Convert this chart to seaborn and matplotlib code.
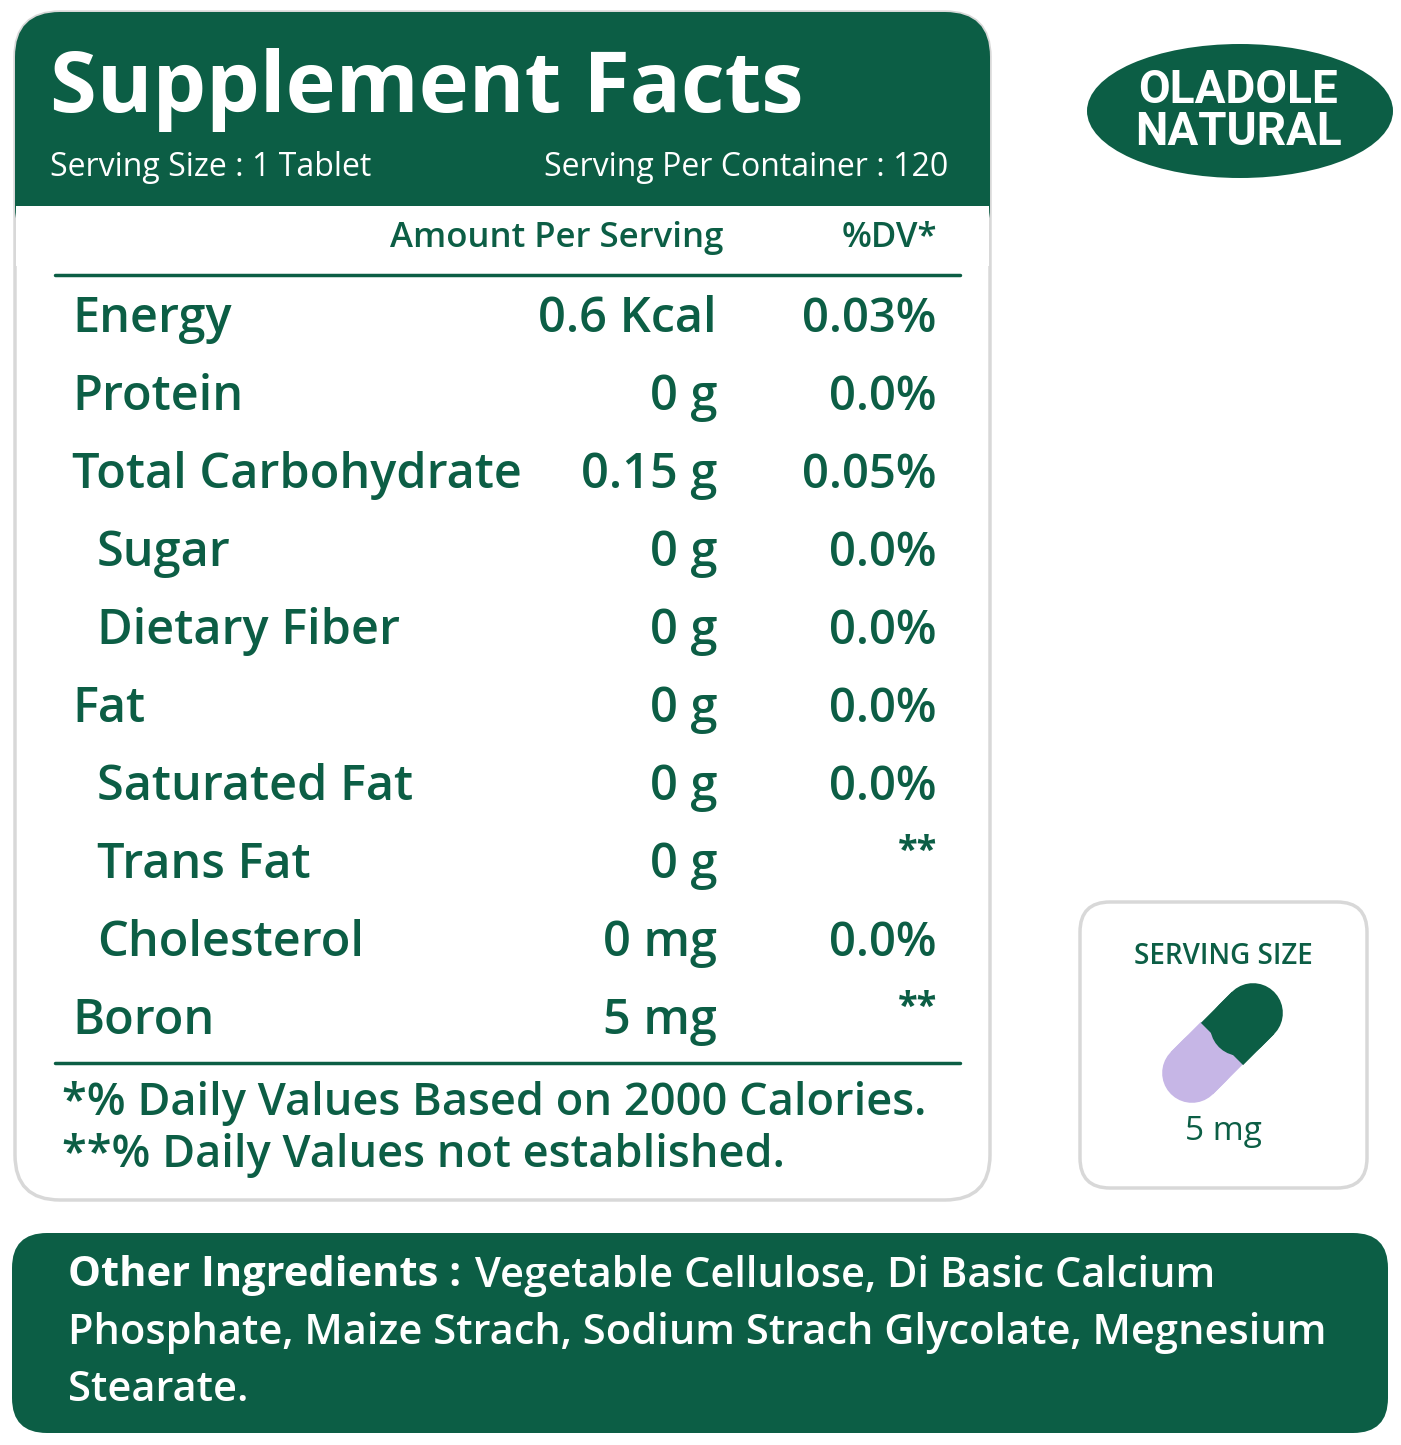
import matplotlib
matplotlib.use("Agg")
import matplotlib.pyplot as plt
from matplotlib.patches import FancyBboxPatch, Ellipse, Rectangle
import seaborn as sns

sns.set_style("white")
plt.rcParams["font.family"] = ["Open Sans", "DejaVu Sans"]

GREEN = "#0c5e45"
PURPLE = "#c6b6e6"

title = "Supplement Facts"
serving_size = "Serving Size : 1 Tablet"
serving_per = "Serving Per Container : 120"
nutrients = ["Energy", "Protein", "Total Carbohydrate", "Sugar", "Dietary Fiber",
             "Fat", "Saturated Fat", "Trans Fat", "Cholesterol", "Boron"]
amounts = ["0.6 Kcal", "0 g", "0.15 g", "0 g", "0 g", "0 g", "0 g", "0 g", "0 mg", "5 mg"]
dvs = ["0.03%", "0.0%", "0.05%", "0.0%", "0.0%", "0.0%", "0.0%", "**", "0.0%", "**"]
indented = [False, False, False, True, True, False, True, True, True, False]
footnotes = ["*% Daily Values Based on 2000 Calories.", "**% Daily Values not established."]
ingredients = ["Vegetable Cellulose, Di Basic Calcium",
               "Phosphate, Maize Strach, Sodium Strach Glycolate, Megnesium",
               "Stearate."]

fig = plt.figure(figsize=(14.01, 14.45), dpi=100)
ax = fig.add_axes([0, 0, 1, 1])
ax.set_xlim(0, 1401)
ax.set_ylim(1445, 0)
ax.axis("off")

# main panel
ax.add_patch(FancyBboxPatch((15, 12), 975, 1188, boxstyle="round,pad=0,rounding_size=45",
                            fc="white", ec="#d8d8d8", lw=2.5))
ax.add_patch(FancyBboxPatch((15, 12), 975, 240, boxstyle="round,pad=0,rounding_size=45",
                            fc=GREEN, ec="none"))
ax.add_patch(Rectangle((16, 206), 973, 60, fc="white", ec="none"))

ax.text(50, 90, title, color="white", fontsize=61, fontweight="bold", va="center")
ax.text(50, 168, serving_size, color="white", fontsize=23, va="center")
ax.text(948, 168, serving_per, color="white", fontsize=23, va="center", ha="right")

ax.text(724, 238, "Amount Per Serving", color=GREEN, fontsize=25, va="center", ha="right",
        fontweight="semibold")
ax.text(937, 238, "%DV*", color=GREEN, fontsize=25, va="center", ha="right",
        fontweight="semibold")
ax.plot([55, 960], [275, 275], color=GREEN, lw=2.5)
ax.plot([55, 960], [1063, 1063], color=GREEN, lw=2.5)

for i, (n, a, d, ind) in enumerate(zip(nutrients, amounts, dvs, indented)):
    y = 320 + i * 78
    ax.text(97 if ind else 72, y, n, color=GREEN, fontsize=35, fontweight="semibold", va="center")
    ax.text(717, y, a, color=GREEN, fontsize=35, fontweight="semibold", va="center", ha="right")
    if d == "**":
        ax.text(937, y - 14, d, color=GREEN, fontsize=26, fontweight="bold", va="center", ha="right")
    else:
        ax.text(937, y, d, color=GREEN, fontsize=34, fontweight="semibold", va="center", ha="right")

for i, f in enumerate(footnotes):
    ax.text(62, 1103 + i * 53, f, color=GREEN, fontsize=32.5, fontweight="semibold", va="center")

# logo
ax.add_patch(Ellipse((1240, 111), 306, 134, fc=GREEN, ec="none"))
ax.text(1238, 111, "OLADOLE\nNATURAL", color="white", fontsize=33, fontweight="bold",
        va="center", ha="center", linespacing=0.95, family=["Roboto", "DejaVu Sans"])

# serving size box
ax.add_patch(FancyBboxPatch((1080, 902), 287, 286, boxstyle="round,pad=0,rounding_size=30",
                            fc="white", ec="#d8d8d8", lw=2.5))
ax.text(1223, 956, "SERVING SIZE", color=GREEN, fontsize=20, fontweight="semibold",
        va="center", ha="center")
ax.plot([1192, 1205], [1073, 1060], color=PURPLE, lw=43, solid_capstyle="round")
ax.plot([1222, 1192], [1043, 1073], color=PURPLE, lw=43, solid_capstyle="butt")
ax.plot([1253, 1240], [1013, 1026], color=GREEN, lw=43, solid_capstyle="round")
ax.plot([1253, 1222], [1013, 1044], color=GREEN, lw=43, solid_capstyle="butt")
ax.add_patch(Ellipse((1190, 1054), 15, 13, fc="white", ec="none"))
ax.add_patch(Ellipse((1186, 1079), 10, 9, fc="white", ec="none"))
ax.text(1223, 1132, "5 mg", color=GREEN, fontsize=24, va="center", ha="center")

# ingredients
ax.add_patch(FancyBboxPatch((12, 1233), 1376, 200, boxstyle="round,pad=0,rounding_size=35",
                            fc=GREEN, ec="none"))
ax.text(68, 1276, "Other Ingredients :", color="white", fontsize=30, fontweight="bold", va="center")
ax.text(475, 1276, ingredients[0], color="white", fontsize=30, fontweight="semibold", va="center")
for i, line in enumerate(ingredients[1:]):
    ax.text(68, 1333 + i * 57, line, color="white", fontsize=30, fontweight="semibold", va="center")

fig.savefig("out.png", dpi=100)
